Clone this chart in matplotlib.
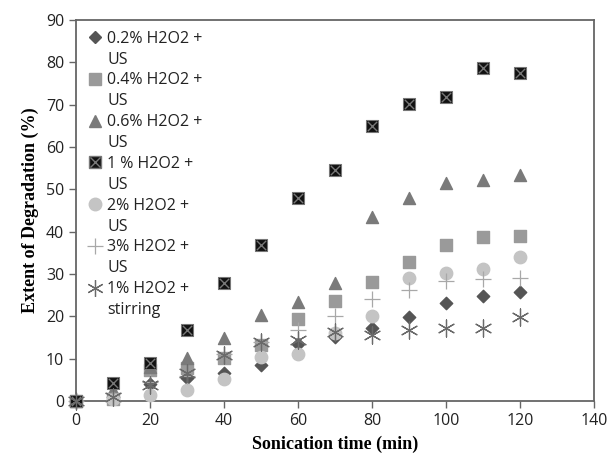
import matplotlib
matplotlib.use("Agg")
import matplotlib.pyplot as plt
from matplotlib.lines import Line2D

# sonication time (min)
time = [0, 10, 20, 30, 40, 50, 60, 70, 80, 90, 100, 110, 120]

# extent of degradation (%)
h02 = [0, 1.0, 4.0, 5.4, 6.6, 8.5, 13.5, 15.0, 17.2, 19.8, 23.2, 24.8, 25.8]
h04 = [0, 0.5, 7.3, 7.7, 10.1, 13.2, 19.4, 23.6, 28.2, 32.9, 36.9, 38.8, 39.0]
h06 = [0, 2.5, 8.0, 10.1, 14.9, 20.3, 23.4, 27.9, 43.5, 48.0, 51.5, 52.2, 53.4]
h1 = [0, 4.3, 9.0, 16.8, 27.9, 36.8, 48.0, 54.6, 65.0, 70.2, 71.8, 78.7, 77.5]
h2 = [0, 0.5, 1.4, 2.6, 5.2, 10.3, 11.1, 16.0, 20.1, 29.0, 30.2, 31.2, 34.0]
h3 = [0, 2.0, 4.5, 6.0, 11.0, 14.0, 16.8, 20.1, 24.0, 26.2, 28.3, 28.8, 29.0]
stir = [0, 1.0, 3.8, 6.6, 10.9, 14.0, 14.5, 16.3, 15.6, 16.8, 17.2, 17.3, 19.8]

labels = ["0.2% H2O2 +", "0.4% H2O2 +", "0.6% H2O2 +", "1 % H2O2 +",
          "2% H2O2 +", "3% H2O2 +", "1% H2O2 +"]
second = ["US", "US", "US", "US", "US", "US", "stirring"]

fig = plt.figure(figsize=(6.1, 4.59), dpi=100)
ax = fig.add_axes([0.1246, 0.1264, 0.8492, 0.83])

kw = dict(clip_on=False)
ax.scatter(time, h02, marker="D", s=40, color="#555555", zorder=3, **kw)
ax.scatter(time, h04, marker="s", s=75, color="#9a9a9a", zorder=3, **kw)
ax.scatter(time, h06, marker="^", s=75, color="#7a7a7a", zorder=3, **kw)
ax.scatter(time, h1, marker="s", s=85, color="#111111", edgecolor="#777777", linewidth=0.8, zorder=4, **kw)
ax.scatter(time, h1, marker="x", s=45, color="#777777", linewidth=1.0, zorder=5, **kw)
ax.scatter(time, h2, marker="o", s=80, color="#c4c4c4", zorder=3, **kw)
ax.scatter(time, h3, marker="+", s=120, color="#a8a8a8", linewidth=0.9, zorder=3, **kw)
ax.scatter(time, stir, marker=(6, 2, 0), s=150, color="#6a6a6a", linewidth=0.9, zorder=6, **kw)

# legend with a blank row for the wrapped second line of each label
mk = [dict(marker="D", markersize=6, color="#555555"),
      dict(marker="s", markersize=8.5, color="#9a9a9a"),
      dict(marker="^", markersize=8.5, color="#7a7a7a"),
      dict(marker="s", markersize=8.5, color="#111111", markeredgecolor="#777777"),
      dict(marker="o", markersize=9, color="#c4c4c4"),
      dict(marker="+", markersize=11, color="#a8a8a8", markeredgewidth=0.9),
      dict(marker=(6, 2, 0), markersize=12, color="#6a6a6a", markeredgewidth=0.9)]
handles = []
texts = []
for i in range(7):
    h = Line2D([], [], linestyle="none", **mk[i])
    if i == 3:
        h = (h, Line2D([], [], linestyle="none", marker="x", markersize=6.5,
                       color="#777777", markeredgewidth=1.0))
    handles.append(h)
    texts.append(labels[i])
    handles.append(Line2D([], [], linestyle="none"))
    texts.append(second[i])
leg = ax.legend(handles, texts, loc="upper left", bbox_to_anchor=(0.005, 0.995),
                frameon=False, labelspacing=0.305, handlelength=0.9,
                handletextpad=0.35, borderaxespad=0.35, borderpad=0.2,
                prop={"family": "Open Sans", "size": 11.5})
for t in leg.get_texts():
    t.set_color("#222222")

ax.set_xlim(0, 140)
ax.set_ylim(0, 90)
ax.set_xticks(range(0, 141, 20))
ax.set_yticks(range(0, 91, 10))
for s in ax.spines.values():
    s.set_color("#666666")
    s.set_linewidth(1.3)
ax.tick_params(direction="out", length=5, color="#666666", labelsize=11.5,
               labelcolor="#222222", width=1)
for lab in ax.get_xticklabels() + ax.get_yticklabels():
    lab.set_family("Open Sans")

ax.set_xlabel("Sonication time (min)", family="Liberation Serif", fontweight="bold",
              fontsize=13, labelpad=5)
ax.set_ylabel("Extent of Degradation (%)", family="Liberation Serif", fontweight="bold",
              fontsize=13, labelpad=5)

fig.savefig("out.png", dpi=100)
